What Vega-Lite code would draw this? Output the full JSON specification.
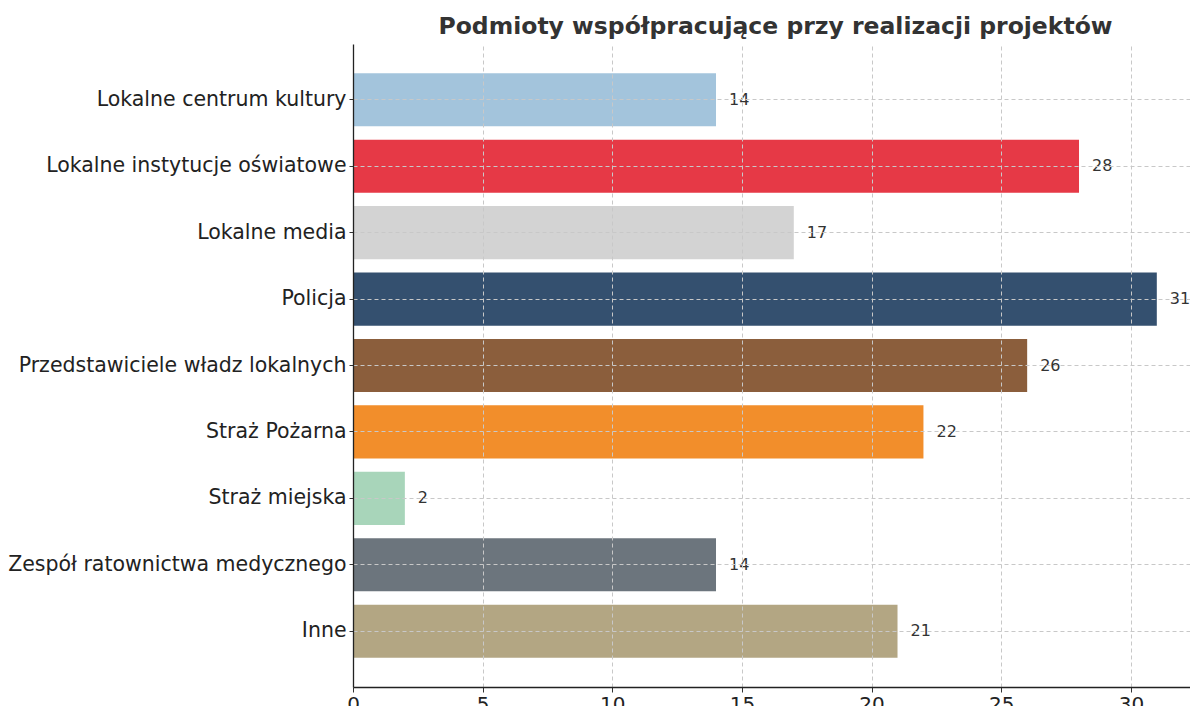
{
  "$schema": "https://vega.github.io/schema/vega-lite/v6.json",
  "autosize": "none",
  "width": 837,
  "height": 643,
  "padding": {"left": 353, "top": 44, "right": 0, "bottom": 19},
  "background": "white",
  "config": {
    "font": "DejaVu Sans",
    "view": {"stroke": null}
  },
  "title": {
    "text": "Podmioty współpracujące przy realizacji projektów",
    "font": "DejaVu Sans",
    "fontSize": 23.5,
    "fontWeight": "bold",
    "color": "#333333",
    "anchor": "middle",
    "dx": 4,
    "offset": 6
  },
  "data": {
    "values": [
      {"category": "Lokalne centrum kultury", "value": 14, "color": "#a3c4dc"},
      {"category": "Lokalne instytucje oświatowe", "value": 28, "color": "#e63946"},
      {"category": "Lokalne media", "value": 17, "color": "#d3d3d3"},
      {"category": "Policja", "value": 31, "color": "#34506f"},
      {"category": "Przedstawiciele władz lokalnych", "value": 26, "color": "#8b5e3c"},
      {"category": "Straż Pożarna", "value": 22, "color": "#f28e2b"},
      {"category": "Straż miejska", "value": 2, "color": "#a8d5ba"},
      {"category": "Zespół ratownictwa medycznego", "value": 14, "color": "#6c757d"},
      {"category": "Inne", "value": 21, "color": "#b3a683"}
    ]
  },
  "encoding": {
    "y": {
      "field": "category",
      "type": "nominal",
      "sort": null,
      "scale": {"paddingInner": 0.2, "paddingOuter": 0.44},
      "axis": {
        "title": null,
        "labelFontSize": 20.5,
        "labelLimit": 0,
        "labelColor": "#222222",
        "labelPadding": 3,
        "tickSize": 4,
        "tickColor": "#333333",
        "domainColor": "#222222",
        "domainWidth": 1.3,
        "grid": true,
        "gridColor": "#c8c8c8",
        "gridDash": [4, 3],
        "gridWidth": 1,
        "bandPosition": 0.5,
        "zindex": 1
      }
    },
    "x": {
      "field": "value",
      "type": "quantitative",
      "scale": {"domain": [0, 32.28], "nice": false, "zero": true},
      "axis": {
        "title": null,
        "values": [0, 5, 10, 15, 20, 25, 30],
        "labelFontSize": 20,
        "labelFlush": false,
        "labelColor": "#222222",
        "labelPadding": 2,
        "tickSize": 5,
        "tickColor": "#333333",
        "domainColor": "#222222",
        "domainWidth": 1.3,
        "grid": true,
        "gridColor": "#c8c8c8",
        "gridDash": [4, 3],
        "gridWidth": 1,
        "zindex": 1
      }
    }
  },
  "layer": [
    {
      "mark": {"type": "bar"},
      "encoding": {
        "color": {"field": "color", "type": "nominal", "scale": null, "legend": null}
      }
    },
    {
      "mark": {"type": "text", "align": "left", "baseline": "middle", "dx": 13, "fontSize": 16, "color": "#333333"},
      "encoding": {
        "text": {"field": "value", "type": "quantitative"}
      }
    }
  ]
}
